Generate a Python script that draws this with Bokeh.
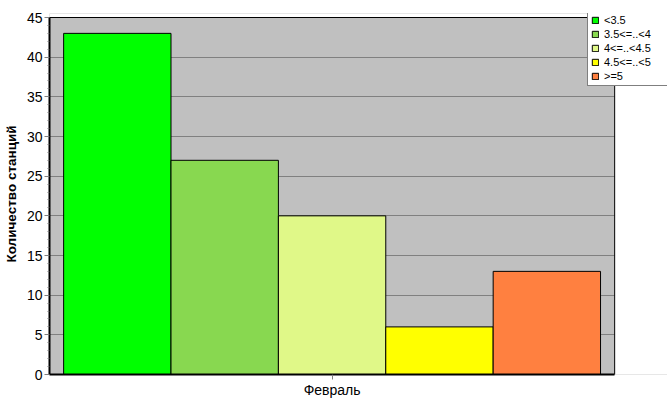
from bokeh.plotting import figure
from bokeh.models import (Range1d, SingleIntervalTicker, FixedTicker, Legend, LegendItem,
                          BoxAnnotation, ColumnDataSource)
from bokeh.embed import file_html
from bokeh.resources import INLINE

months = ["Февраль"]
series = ["<3.5", "3.5<=..<4", "4<=..<4.5", "4.5<=..<5", ">=5"]
values = [43, 27, 20, 6, 13]
colors = ["#00FF00", "#88D850", "#E0F888", "#FFFF00", "#FF8040"]
offsets = [-0.38, -0.19, 0.0, 0.19, 0.38]
y_ticks_step = 5
y_max = 45

FONT = "Liberation Sans"
n = len(months)
centers = [i + 0.5 for i in range(n)]

# frame extends past the plot area so the legend (which overhangs it) is not clipped
x_extra = 53 / 567.0 * n
y_extra = 4 / 357.0 * y_max

p = figure(width=667, height=415,
           x_range=Range1d(0, n + x_extra), y_range=Range1d(0, y_max + y_extra),
           output_backend="svg", toolbar_location=None,
           min_border_left=47, min_border_right=0, min_border_top=13, min_border_bottom=41)
p.background_fill_color = "#C0C0C0"
p.border_fill_color = "white"
p.outline_line_color = None

items = []
for name, v, c, off in zip(series, values, colors, offsets):
    src = ColumnDataSource(dict(x=[ctr + off for ctr in centers], top=[v]))
    r = p.vbar(x="x", top="top", width=0.19, source=src,
               fill_color=c, line_color="black", line_width=1)
    items.append(LegendItem(label=name, renderers=[r]))

p.xgrid.visible = False
p.ygrid.grid_line_color = "#808080"
p.ygrid.grid_line_width = 1
p.yaxis.ticker = SingleIntervalTicker(interval=y_ticks_step, num_minor_ticks=5)
p.xaxis.ticker = FixedTicker(ticks=centers)
p.xaxis.major_label_overrides = {c: m for c, m in zip(centers, months)}
p.xaxis.bounds = (0, n)
p.yaxis.bounds = (0, y_max)

for ax in (p.xaxis[0], p.yaxis[0]):
    ax.axis_line_color = "black"
    ax.axis_line_width = 2
    ax.major_tick_line_color = "#808080"
    ax.major_tick_in = 0
    ax.major_tick_out = 5
    ax.major_label_text_font = FONT
    ax.major_label_text_color = "black"
    ax.major_label_text_font_size = "14px"

p.yaxis.minor_tick_line_color = "#808080"
p.yaxis.minor_tick_in = 0
p.yaxis.minor_tick_out = 2
p.yaxis.major_label_standoff = 2
p.yaxis.axis_label = "Количество станций"
p.yaxis.axis_label_text_font = FONT
p.yaxis.axis_label_text_font_style = "bold"
p.yaxis.axis_label_text_font_size = "13.5px"
p.yaxis.axis_label_text_color = "black"
p.yaxis.axis_label_standoff = 5
p.xaxis.major_label_standoff = 2
p.xaxis.minor_tick_line_color = None

# white area outside the plot area, and the plot-area border
p.add_layout(BoxAnnotation(left=n, fill_color="white", fill_alpha=1, line_color=None))
p.add_layout(BoxAnnotation(bottom=y_max, fill_color="white", fill_alpha=1, line_color=None))
p.add_layout(BoxAnnotation(right=n, top=y_max, fill_color=None, fill_alpha=0,
                           line_color="black", line_width=1, line_alpha=1))

legend = Legend(items=items, location=(538, 288), orientation="vertical",
                border_line_color="black", border_line_width=1,
                background_fill_color="white", background_fill_alpha=1,
                label_text_font=FONT, label_text_font_size="11px", label_text_color="black",
                glyph_width=8, glyph_height=8, label_height=12, label_width=60,
                label_standoff=5, spacing=2, padding=3, margin=0)
p.add_layout(legend, "center")

open("out.html", "w").write(file_html(p, INLINE))
